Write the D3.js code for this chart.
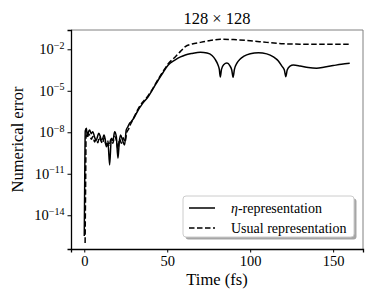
<!DOCTYPE html>
<html>
<head>
<meta charset="utf-8">
<script src="https://cdn.jsdelivr.net/npm/d3@7"></script>
<style>
  body { margin: 0; background: white; }
</style>
</head>
<body>
<div id="chart"></div>
<script>
// time (fs) and log10 of the numerical error
const etaTime = [0, 0.3, 0.6, 1.3, 1.8, 2.6, 3.2, 4.2, 5.2, 6.2, 7.2, 8.0, 8.7, 9.5, 10.3, 11.1, 11.9, 12.6, 13.3, 14.3, 15.3, 16.3, 17.3, 18.3, 19.3, 20.3, 21.1, 21.9, 23.1, 24.3, 25.3, 26.3, 27.3, 28.3,
  30, 32.5, 35, 38.5, 41.5, 44.6, 47.5, 50.6, 54.8, 58, 60.9, 65, 70, 74, 77, 79, 80.5, 81.4, 82, 82.7, 84, 86, 87.8, 88.9, 89.7, 90.5, 92, 94, 96, 100, 105, 110, 114, 117, 119, 120.6, 121.5, 122.3, 124, 126, 130, 135, 140, 145, 150, 155, 160];
const etaLog = [-15.5, -11, -7.9, -7.71, -8.3, -7.95, -7.83, -8.1, -7.96, -8.35, -8.6, -8.3, -8.07, -8.25, -8.56, -8.45, -8.2, -8.5, -9.04, -8.8, -10.36, -8.43, -8.6, -7.96, -8.3, -9.88, -8.7, -8.2, -8.6, -8.92, -7.83, -7.6, -7.35, -7.23,
  -6.95, -6.39, -5.95, -5.43, -4.85, -4.22, -3.68, -3.14, -2.77, -2.55, -2.41, -2.3, -2.22, -2.27, -2.45, -2.75, -3.1, -3.45, -4.0, -3.45, -3.12, -3.0, -3.2, -3.5, -4.02, -3.45, -3.0, -2.7, -2.52, -2.32, -2.25, -2.33, -2.55, -2.85, -3.2, -3.5, -3.98, -3.5, -3.22, -3.14, -3.2, -3.32, -3.37, -3.28, -3.18, -3.08, -3.01];

const usualTime = [0.5, 0.8, 1.1, 1.8, 2.6, 3.4, 4.3, 5.2, 6.2, 7.2, 8.2, 9.0, 10.0, 11.0, 12.0, 13.0, 14.0, 15.0, 16.0, 17.2, 18.3, 19.4, 20.3, 21.3, 22.4, 23.5, 24.6, 25.6, 26.6, 27.6, 28.6,
  30, 32.5, 35, 38.5, 41.5, 44.6, 47.5, 50.6, 54.8, 58, 60.9, 65, 70, 75, 82, 90, 100, 110, 120, 130, 140, 150, 160];
const usualLog = [-16, -12, -8.2, -8.4, -8.1, -8.25, -8.5, -8.3, -8.7, -8.5, -8.75, -8.35, -8.6, -8.8, -8.4, -8.9, -8.6, -9.0, -8.5, -8.8, -8.3, -8.6, -9.2, -8.5, -8.8, -8.4, -8.7, -8.0, -7.8, -7.5, -7.25,
  -6.9, -6.3, -5.85, -5.35, -4.8, -4.15, -3.6, -3.05, -2.55, -2.15, -1.81, -1.62, -1.5, -1.38, -1.28, -1.3, -1.38, -1.5, -1.6, -1.63, -1.64, -1.64, -1.64];

const yTicks = [1e-2, 1e-5, 1e-8, 1e-11, 1e-14];
const xTicks = [0, 50, 100, 150];

const W = 374, H = 299;
const mLeft = 71, mRight = 363, mTop = 30, mBottom = 249;
const FONT = "'Liberation Serif', 'Times New Roman', Tinos, Times, 'DejaVu Serif', 'Noto Serif', serif";

const svg = d3.select("#chart").append("svg").attr("width", W).attr("height", H)
  .attr("font-family", FONT);

const x = d3.scaleLinear().domain([-8, 168]).range([mLeft, mRight]);
const y = d3.scaleLog().domain([Math.pow(10, -16.44), Math.pow(10, -0.605)]).range([mBottom, mTop]);

svg.append("defs").append("clipPath").attr("id", "clip")
  .append("rect").attr("x", mLeft).attr("y", mTop).attr("width", mRight - mLeft).attr("height", mBottom - mTop);

const line = d3.line()
  .x(d => x(d[0]))
  .y(d => y(Math.pow(10, d[1])))
  .curve(d3.curveMonotoneX);

const plot = svg.append("g").attr("clip-path", "url(#clip)");
plot.append("path")
  .datum(usualTime.map((t, i) => [t, usualLog[i]]))
  .attr("d", line).attr("fill", "none").attr("stroke", "#000")
  .attr("stroke-width", 1.5).attr("stroke-dasharray", "5.5,2.5");
plot.append("path")
  .datum(etaTime.map((t, i) => [t, etaLog[i]]))
  .attr("d", line).attr("fill", "none").attr("stroke", "#000")
  .attr("stroke-width", 1.5).attr("stroke-linejoin", "round");

// frame: grey top/right, black left/bottom
svg.append("line").attr("x1", mLeft).attr("x2", mRight).attr("y1", mTop).attr("y2", mTop).attr("stroke", "#808080").attr("stroke-width", 1);
svg.append("line").attr("x1", mRight).attr("x2", mRight).attr("y1", mTop).attr("y2", mBottom).attr("stroke", "#808080").attr("stroke-width", 1);

const xAxis = d3.axisBottom(x).tickValues(xTicks).tickSize(3.5).tickPadding(3).tickFormat(d3.format("d"));
const gx = svg.append("g").attr("transform", `translate(0,${mBottom})`).call(xAxis).attr("font-family", FONT);
gx.select(".domain").attr("stroke", "#000").attr("stroke-width", 1.3);
gx.selectAll(".tick text").attr("font-size", "14.5px").attr("fill", "#000");

const yAxis = d3.axisLeft(y).tickValues(yTicks).tickSize(3.5).tickPadding(3);
const gy = svg.append("g").attr("transform", `translate(${mLeft},0)`).call(yAxis).attr("font-family", FONT);
gy.select(".domain").attr("stroke", "#000").attr("stroke-width", 1.3);
gy.selectAll(".tick text")
  .attr("font-size", "14.5px").attr("fill", "#000")
  .text(null)
  .each(function(d) {
    const t = d3.select(this);
    t.append("tspan").text("10");
    t.append("tspan").attr("dy", "-0.55em").attr("font-size", "10px").text("\u2212" + Math.round(-Math.log10(d)));
  });

// title and axis labels
svg.append("text").attr("x", (mLeft + mRight) / 2).attr("y", 24).attr("text-anchor", "middle")
  .attr("font-size", "16.5px").text("128 \u00d7 128");
svg.append("text").attr("x", (mLeft + mRight) / 2).attr("y", 285).attr("text-anchor", "middle")
  .attr("font-size", "16.5px").text("Time (fs)");
svg.append("text").attr("transform", `translate(23,${(mTop + mBottom) / 2}) rotate(-90)`).attr("text-anchor", "middle")
  .attr("font-size", "16.5px").text("Numerical error");

// legend
const lg = svg.append("g").attr("transform", "translate(183,196)");
lg.append("rect").attr("x", 2.5).attr("y", 2.5).attr("width", 171).attr("height", 41).attr("rx", 3)
  .attr("fill", "#000").attr("opacity", 0.35);
lg.append("rect").attr("width", 171).attr("height", 41).attr("rx", 3)
  .attr("fill", "#fff").attr("stroke", "#ccc").attr("stroke-width", 1);
const legendItems = [{ label: ["\u03b7", "-representation"], dash: null }, { label: ["", "Usual representation"], dash: "5.5,2.5" }];
legendItems.forEach((it, i) => {
  const yy = 12 + i * 20;
  lg.append("line").attr("x1", 6).attr("x2", 32).attr("y1", yy).attr("y2", yy)
    .attr("stroke", "#000").attr("stroke-width", 1.5).attr("stroke-dasharray", it.dash);
  const tx = lg.append("text").attr("x", 48).attr("y", yy + 5).attr("font-size", "14px");
  if (it.label[0]) tx.append("tspan").attr("font-style", "italic").text(it.label[0]);
  tx.append("tspan").text(it.label[1]);
});
</script>
</body>
</html>
